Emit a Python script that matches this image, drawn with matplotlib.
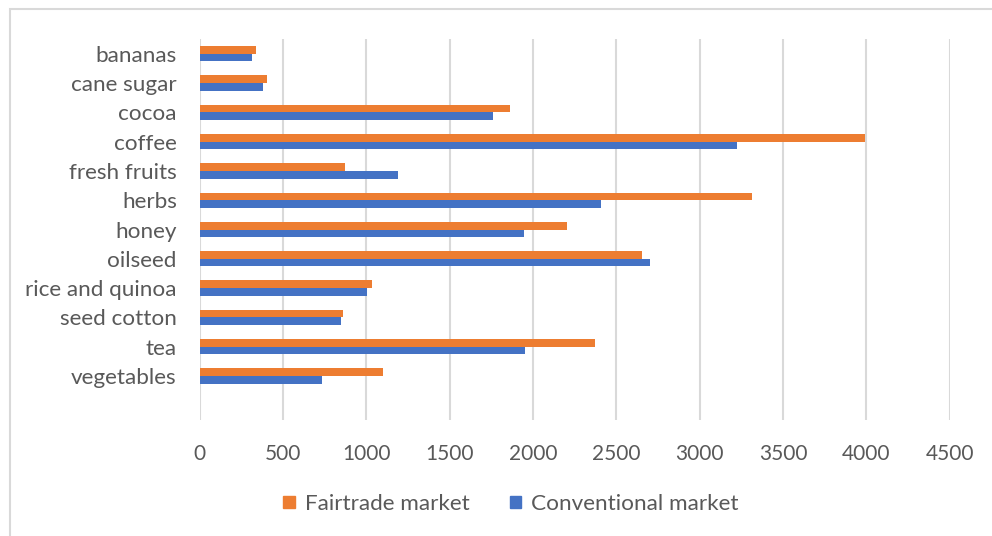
import matplotlib
matplotlib.use("Agg")
import matplotlib.pyplot as plt
from matplotlib.patches import Rectangle, Patch
import numpy as np

plt.rcParams['font.family'] = ['Lato', 'DejaVu Sans']

categories = ["bananas", "cane sugar", "cocoa", "coffee", "fresh fruits", "herbs",
              "honey", "oilseed", "rice and quinoa", "seed cotton", "tea", "vegetables"]
fairtrade = [338, 402, 1862, 3990, 870, 3312, 2202, 2656, 1036, 858, 2374, 1098]
conventional = [314, 382, 1762, 3222, 1192, 2410, 1944, 2704, 1002, 850, 1950, 736]
x_ticks = [0, 500, 1000, 1500, 2000, 2500, 3000, 3500, 4000, 4500]

orange = "#ED7D31"
blue = "#4472C4"
text_color = "#595959"
grid_color = "#D9D9D9"

W, H = 992, 536
fig = plt.figure(figsize=(W / 100, H / 100), dpi=100)

# chart frame
fig.patches.append(Rectangle((10 / W, -0.1), 1.2, 1 - 9 / H + 0.1,
                             transform=fig.transFigure, fill=False,
                             edgecolor=grid_color, linewidth=1.5))

ax = fig.add_axes([199.7 / W, 1 - 420 / H, 750 / W, (420 - 39) / H])

y = np.arange(len(categories))
h = 0.262
ax.barh(y - h / 2, fairtrade, height=h, color=orange, label="Fairtrade market", zorder=3)
ax.barh(y + h / 2, conventional, height=h, color=blue, label="Conventional market", zorder=3)

ax.set_xlim(0, 4500)
ax.set_ylim(12.5, -0.5)
ax.set_xticks(x_ticks)
ax.set_xticklabels([str(v) for v in x_ticks])
ax.set_yticks(y)
ax.set_yticklabels(categories)

ax.grid(axis="x", color=grid_color, linewidth=1.5, zorder=0)
for s in ax.spines.values():
    s.set_visible(False)
ax.tick_params(axis="both", length=0, colors=text_color)
ax.tick_params(axis="x", pad=17, labelsize=15)
ax.tick_params(axis="y", pad=16.5, labelsize=16.2)

handles = [Patch(color=orange), Patch(color=blue)]
fig.legend(handles, ["Fairtrade market", "Conventional market"],
           loc="center", bbox_to_anchor=(511 / W, 1 - 504 / H), ncol=2,
           frameon=False, fontsize=16.2, labelcolor=text_color,
           handlelength=0.5, handleheight=0.5, handletextpad=0.45,
           columnspacing=1.8)

fig.savefig("out.png", dpi=100)
